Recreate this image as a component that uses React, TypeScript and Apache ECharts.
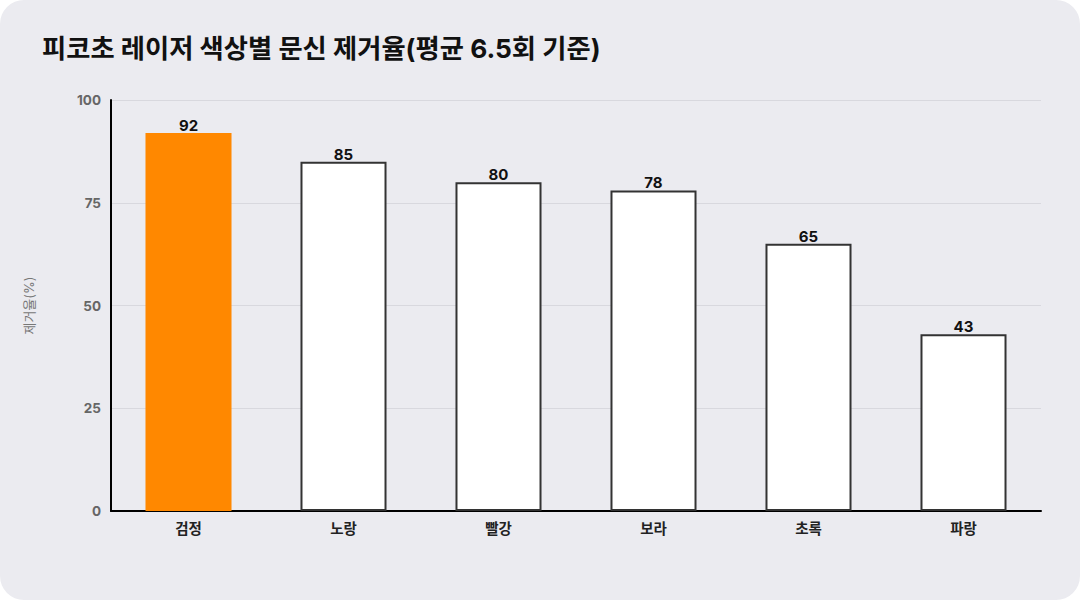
import React, { useEffect, useRef } from "react";
import * as echarts from "echarts";

const categories = ["검정", "노랑", "빨강", "보라", "초록", "파랑"];
const removalRates = [92, 85, 80, 78, 65, 43];
const highlightIndex = 0;
const titleText = "피코초 레이저 색상별 문신 제거율(평균 6.5회 기준)";
const yAxisName = "제거율(%)";

const FONT = "Inter, 'Noto Sans CJK KR', sans-serif";

export default function App() {
  const ref = useRef<HTMLDivElement>(null);
  useEffect(() => {
    if (!ref.current) return;
    const chart = echarts.init(ref.current, undefined, { renderer: "svg" });
    chart.setOption({
      animation: false,
      backgroundColor: "transparent",
      textStyle: { fontFamily: FONT },
      title: {
        text: titleText,
        left: 37,
        top: 30,
        textStyle: { fontFamily: FONT, fontSize: 26.3, fontWeight: "bold", color: "#111" },
      },
      grid: { left: 111, right: 39, top: 100, bottom: 89, containLabel: false },
      xAxis: {
        type: "category",
        data: categories,
        axisLine: { lineStyle: { color: "#000", width: 2 } },
        axisTick: { show: false },
        axisLabel: { color: "#222", fontSize: 14.5, fontWeight: "bold", margin: 10, fontFamily: FONT },
      },
      yAxis: {
        type: "value",
        min: 0,
        max: 100,
        interval: 25,
        name: yAxisName,
        nameLocation: "middle",
        nameGap: 76,
        nameTextStyle: { color: "#777", fontSize: 13, fontFamily: FONT },
        axisLine: { show: true, lineStyle: { color: "#000", width: 2 } },
        axisTick: { show: false },
        axisLabel: { color: "#666", fontSize: 13.5, fontWeight: "bold", margin: 10, fontFamily: FONT },
        splitLine: { lineStyle: { color: "#d8d8de", width: 1 } },
      },
      series: [
        {
          type: "bar",
          barWidth: "55.5%",
          data: removalRates.map((v, i) => ({
            value: v,
            itemStyle:
              i === highlightIndex
                ? { color: "#ff8800", borderWidth: 0 }
                : { color: "#ffffff", borderColor: "#333", borderWidth: 2 },
          })),
          label: {
            show: true,
            position: "top",
            distance: 0,
            color: "#111",
            fontSize: 15,
            fontWeight: "bold",
            fontFamily: FONT,
          },
        },
      ],
    });
    return () => chart.dispose();
  }, []);
  return (
    <div
      style={{
        position: "fixed",
        left: 0,
        top: 0,
        width: 1080,
        height: 600,
        background: "#fff",
      }}
    >
      <div
        style={{
          width: 1080,
          height: 600,
          borderRadius: 24,
          background: "#ebebf0",
          overflow: "hidden",
        }}
      >
        <div ref={ref} style={{ width: 1080, height: 600 }} />
      </div>
    </div>
  );
}
